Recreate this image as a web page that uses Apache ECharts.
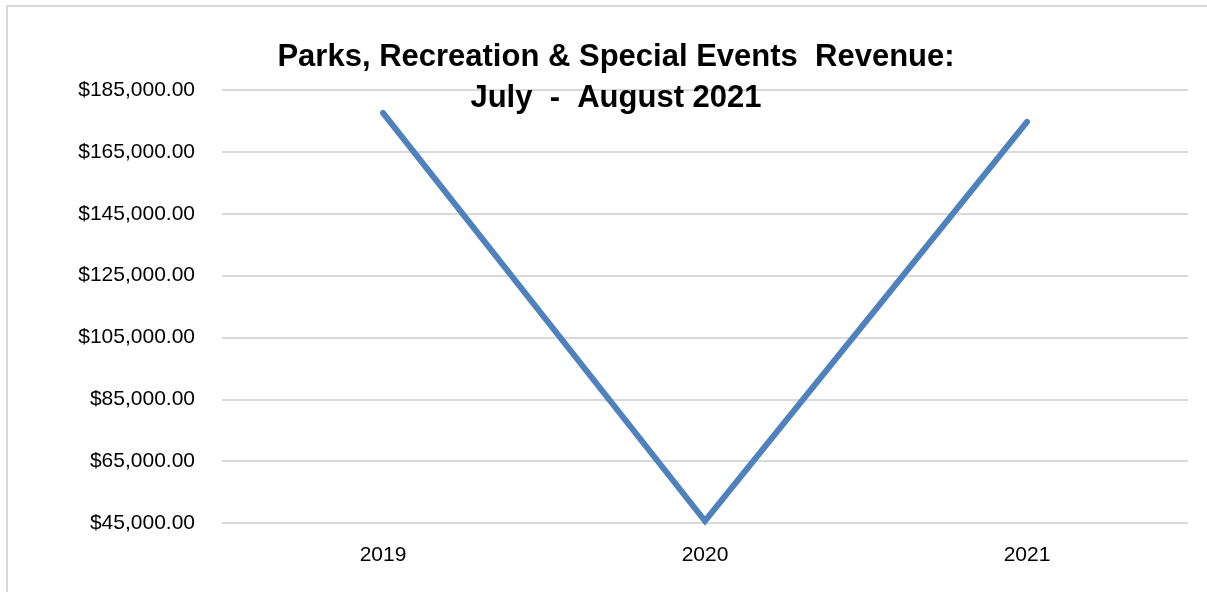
<!DOCTYPE html>
<html>
<head>
<meta charset="utf-8">
<script src="https://cdn.jsdelivr.net/npm/echarts@6/dist/echarts.min.js"></script>
<style>
  html, body { margin: 0; padding: 0; overflow: hidden; background: #fff; }
  #frame { position: absolute; left: 6px; top: 5px; width: 1240px; height: 640px; border: 2px solid #d9d9d9; box-sizing: border-box; }
  #chart { position: absolute; left: 0; top: 0; width: 1207px; height: 592px; }
</style>
</head>
<body>
<div id="frame"></div>
<div id="chart"></div>
<script type="text/javascript">
// chart data
const years = ["2019", "2020", "2021"];
const revenue = [177600, 45650, 174700];
const yMin = 45000;
const yMax = 185000;
const yStep = 20000;
const titleText = "Parks, Recreation & Special Events  Revenue:\nJuly  -  August 2021";

function money(v) {
  return "$" + v.toLocaleString("en-US", { minimumFractionDigits: 2, maximumFractionDigits: 2 });
}

const chart = echarts.init(document.getElementById("chart"));
chart.setOption({
  animation: false,
  backgroundColor: "transparent",
  textStyle: { fontFamily: "Liberation Sans" },
  title: {
    text: titleText,
    left: 611,
    top: 32,
    textAlign: "center",
    textStyle: {
      fontFamily: "Liberation Sans",
      fontSize: 31,
      fontWeight: "bold",
      color: "#000",
      lineHeight: 41
    }
  },
  grid: {
    left: 222,
    right: 19,
    top: 90,
    bottom: 69
  },
  xAxis: {
    type: "category",
    data: years,
    boundaryGap: true,
    axisLine: { show: false },
    axisTick: { show: false },
    axisLabel: {
      color: "#000",
      fontSize: 21,
      margin: 22
    }
  },
  yAxis: {
    type: "value",
    min: yMin,
    max: yMax,
    interval: yStep,
    axisLine: { show: false },
    axisTick: { show: false },
    splitLine: { lineStyle: { color: "#d9d9d9", width: 2 } },
    axisLabel: {
      color: "#000",
      fontSize: 21,
      margin: 27,
      formatter: money
    }
  },
  series: [
    {
      name: "Revenue",
      type: "line",
      data: revenue,
      symbol: "none",
      lineStyle: {
        color: "#4f81bd",
        width: 6,
        cap: "round",
        join: "miter"
      }
    }
  ]
});
</script>
</body>
</html>
